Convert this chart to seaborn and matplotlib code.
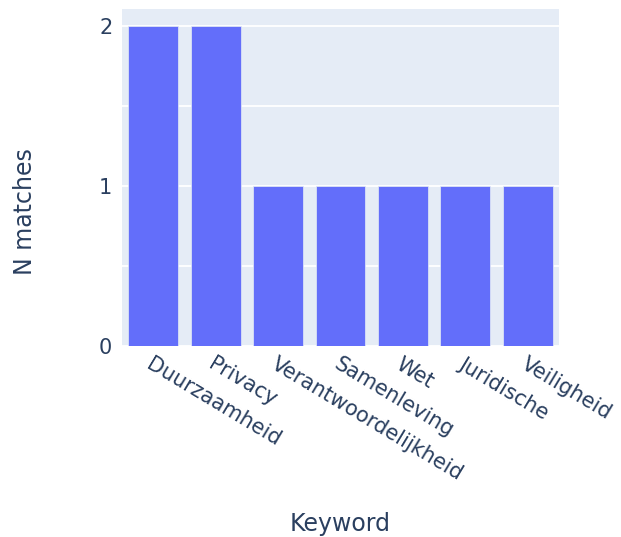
import pandas as pd
import matplotlib
matplotlib.use("Agg")
import matplotlib.pyplot as plt
import seaborn as sns
from matplotlib.ticker import MultipleLocator

keywords = ["Duurzaamheid", "Privacy", "Verantwoordelijkheid", "Samenleving",
            "Wet", "Juridische", "Veiligheid"]
matches = [2, 2, 1, 1, 1, 1, 1]

df = pd.DataFrame({"Keyword": keywords, "N matches": matches})

sns.set_style("white")
plt.rcParams['font.family'] = ['DejaVu Sans']
txt_col = "#2a3f5f"

fig = plt.figure(figsize=(6.21, 5.37), dpi=100)
# plot area in pixels: x 122..559, y 9..346
ax = fig.add_axes([122/621, 1 - 346/537, 437/621, 337/537])
ax.set_facecolor("#e5ecf6")

sns.barplot(data=df, x="Keyword", y="N matches", color="#636efa",
            saturation=1, width=0.8, ax=ax, zorder=3,
            edgecolor="#e5ecf6", linewidth=0.5)

ax.set_xlim(-0.5, len(keywords) - 0.5)
ax.set_ylim(0, 2.105)
ax.yaxis.set_major_locator(MultipleLocator(1))
ax.yaxis.set_minor_locator(MultipleLocator(0.5))
ax.grid(True, which="both", axis="y", color="white", linewidth=1.3, zorder=0)
ax.set_axisbelow(True)
for s in ax.spines.values():
    s.set_visible(False)

ax.tick_params(axis="both", which="both", length=0)
ax.tick_params(axis="y", labelsize=15, labelcolor=txt_col, pad=7)
ax.tick_params(axis="x", labelsize=15, labelcolor=txt_col, pad=6)
plt.setp(ax.get_xticklabels(), rotation=-31, ha="left", rotation_mode="anchor")

ax.set_xlabel("Keyword", fontsize=17, color=txt_col)
ax.set_ylabel("N matches", fontsize=17, color=txt_col)
ax.xaxis.set_label_coords(0.5, -(524 - 346) / 337, transform=ax.transAxes)
ax.yaxis.set_label_coords(-(122 - 25) / 437, (346 - 212) / 337, transform=ax.transAxes)
ax.xaxis.label.set_va("center")
ax.yaxis.label.set_va("center")

fig.savefig("out.png", dpi=100, facecolor="white")
